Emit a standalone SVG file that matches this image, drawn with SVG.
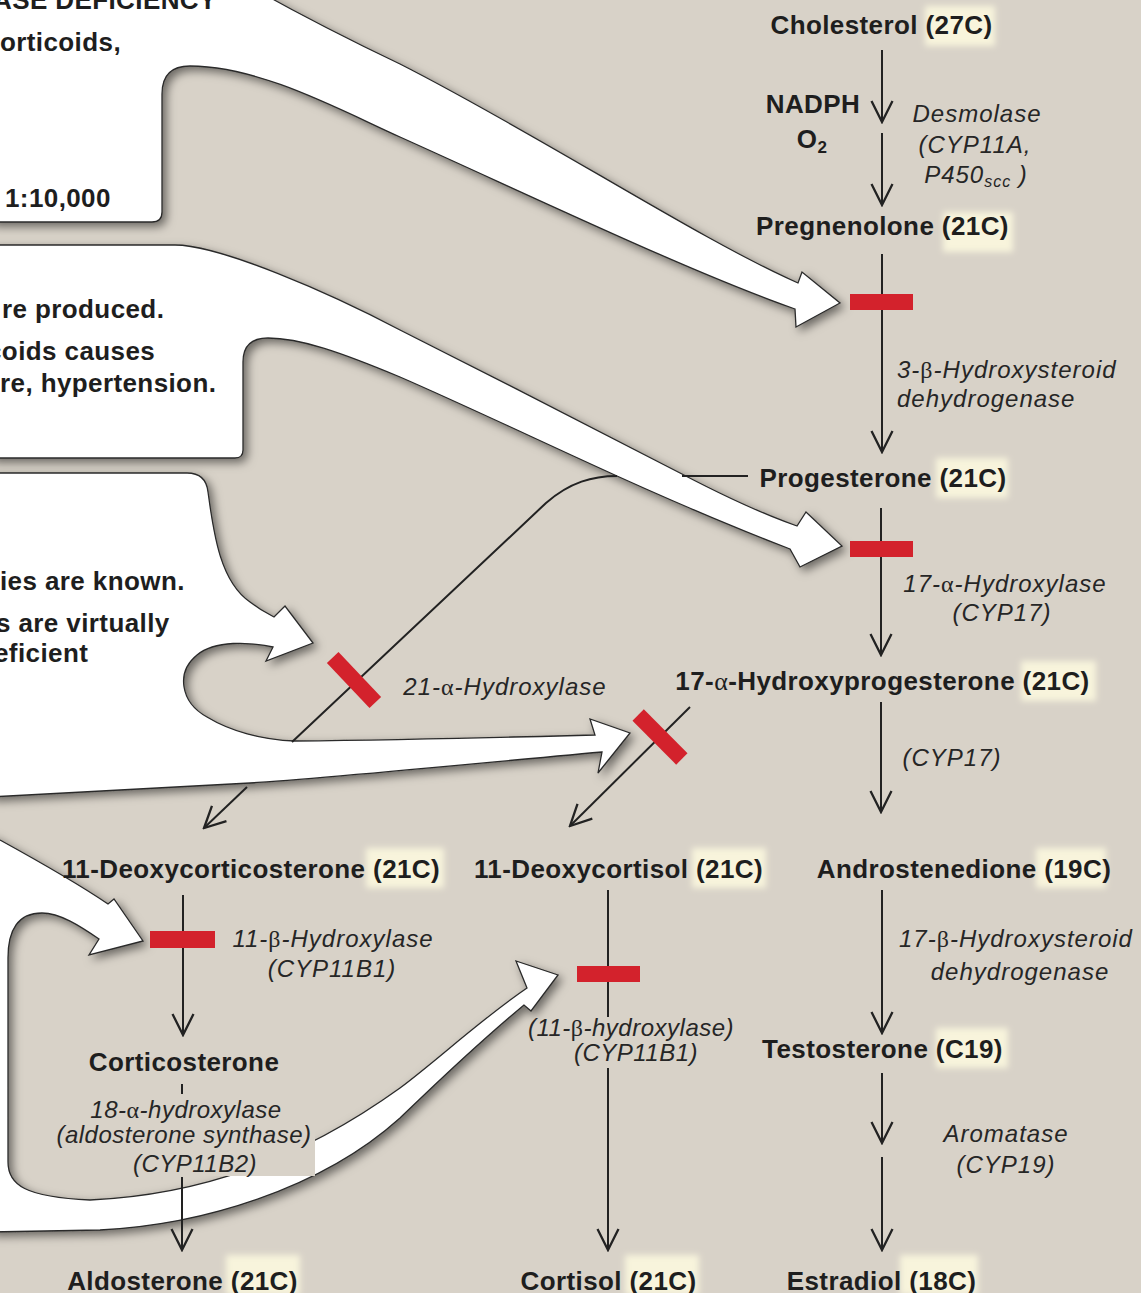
<svg xmlns="http://www.w3.org/2000/svg" width="1141" height="1293" viewBox="0 0 1141 1293">
<defs>
<style>
.b{font-family:"Liberation Sans",Arial,sans-serif;font-weight:bold;font-size:26px;letter-spacing:0.4px;fill:#1e1e1e}
.it{font-family:"Liberation Sans",Arial,sans-serif;font-style:italic;font-size:24px;letter-spacing:1px;fill:#262626}
.itc{font-family:"Liberation Sans",Arial,sans-serif;font-style:italic;font-size:24px;letter-spacing:0.5px;fill:#262626}
.gr{font-family:"Liberation Serif","DejaVu Serif",serif;font-style:normal;font-weight:normal}
.callout{fill:#ffffff;stroke:#2a2a2a;stroke-width:1.3;filter:url(#sh)}
.ln{fill:none;stroke:#222;stroke-width:2}
.arr{marker-end:url(#ah)}
.blk{fill:#d3222c}
.hl{fill:#f8f4dc;filter:url(#glow)}
.bg{fill:#d8d2c8}
</style>
<marker id="ah" viewBox="0 0 24 24" refX="22" refY="12" markerWidth="24" markerHeight="24" markerUnits="userSpaceOnUse" orient="auto">
<path d="M1,1.5 L22,12 L1,22.5" fill="none" stroke="#222" stroke-width="2.3"/>
</marker>
<filter id="sh" x="-10%" y="-10%" width="130%" height="130%">
<feDropShadow dx="4" dy="4" stdDeviation="5" flood-color="#000" flood-opacity="0.5"/>
</filter>
<filter id="glow" x="-20%" y="-20%" width="140%" height="140%">
<feGaussianBlur stdDeviation="3"/>
</filter>
</defs>

<rect x="0" y="0" width="1141" height="1293" fill="#d8d2c8"/>

<g id="callouts">
<g id="callout-a">
<path class="callout" d="M-10,-10 L256,-10 C310,20 360,45 400,64 C540,135 700,240 798,283 L802,272 L840,303 L796,327 L795,309 C690,272 540,200 400,137 C340,110 260,66 190,66 Q162,66 162,94 L162,212 Q162,222 152,222 L-10,222 Z"/>
<text class="b" x="-7" y="9" font-size="24">ASE DEFICIENCY</text>
<text class="b" x="0" y="51">orticoids,</text>
<text class="b" x="5" y="207">1:10,000</text>
</g>
<g id="callout-b">
<path class="callout" d="M-10,245 L175,245 C220,245 330,293 400,330 C490,375 600,432 680,473 C720,494 760,513 797,526 L806,512 L842,546 L800,567 L790,549 C730,526 670,500 617,476 C540,441 460,403 400,377 C340,352 300,338 268,338 Q243,338 243,362 L243,450 Q243,458 235,458 L-10,458 Z"/>
<text class="b" x="2" y="318">re produced.</text>
<text class="b" x="-13" y="360">coids causes</text>
<text class="b" x="0" y="392">re, hypertension.</text>
</g>
<g id="callout-c">
<path class="callout" d="M-10,473 L187,473 Q206,473 208,492 C214,537 221,582 250,602 C259,609 266,613 274,617 L285,606 L313,643 L266,661 L273,647 C250,642 215,640 197,655 C176,672 180,702 207,717 C230,731 262,740 295,741 C400,740 520,737 595,735 L590,719 L630,733 L598,773 L602,752 C470,764 330,778 250,783 L-10,797 Z"/>
<text class="b" x="0" y="590">ies are known.</text>
<text class="b" x="-4" y="632">s are virtually</text>
<text class="b" x="-6" y="662">eficient</text>
</g>
<g id="callout-d">
<path class="callout" d="M-10,834 L0,840 C40,862 80,885 108,904 L114,899 L143,941 L89,955 L99,939 C80,926 60,913 42,913 C18,913 8,930 8,958 L8,1162 C8,1185 25,1197 90,1200 C200,1195 300,1160 400,1088 C440,1058 480,1020 527,988 L516,961 L558,975 L531,1011 L524,1005 C470,1050 440,1080 400,1118 C320,1190 200,1225 100,1230 L-10,1232 Z"/>
</g>
<rect class="bg" x="53" y="1097" width="262" height="79"/>
</g>

<g id="connectors">
<line class="ln arr" x1="882" y1="50" x2="882" y2="122"/>
<line class="ln arr" x1="882" y1="133" x2="882" y2="205"/>
<line class="ln arr" x1="882" y1="254" x2="882" y2="452"/>
<line class="ln arr" x1="881" y1="508" x2="881" y2="655"/>
<line class="ln arr" x1="881" y1="702" x2="881" y2="812"/>
<line class="ln arr" x1="882" y1="890" x2="882" y2="1033"/>
<line class="ln arr" x1="882" y1="1073" x2="882" y2="1143"/>
<line class="ln arr" x1="882" y1="1157" x2="882" y2="1250"/>
<line class="ln arr" x1="183" y1="895" x2="183" y2="1035"/>
<line class="ln" x1="182" y1="1084" x2="182" y2="1094"/>
<line class="ln arr" x1="182" y1="1177" x2="182" y2="1250"/>
<line class="ln" x1="608" y1="890" x2="608" y2="1017"/>
<line class="ln arr" x1="608" y1="1068" x2="608" y2="1250"/>
<line class="ln" x1="748" y1="476" x2="682" y2="476"/>
<path class="ln" d="M617,476 C593,476 570,482 546,503 L292,742"/>
<path class="ln arr" d="M247,787 L204,828"/>
<line class="ln arr" x1="690" y1="707" x2="570" y2="826"/>
</g>

<g id="blocks">
<rect class="blk" x="850" y="294" width="63" height="16"/>
<rect class="blk" x="850" y="541" width="63" height="16"/>
<rect class="blk" x="-31" y="-8" width="62" height="16" transform="translate(354,680) rotate(46.6)"/>
<rect class="blk" x="-31" y="-8" width="62" height="16" transform="translate(660,737) rotate(45.2)"/>
<rect class="blk" x="150" y="931" width="65" height="17"/>
<rect class="blk" x="577" y="966" width="63" height="16"/>
</g>

<g id="enzyme-labels">
<text class="b" x="813" y="113" text-anchor="middle">NADPH</text>
<text class="b" x="812" y="148" text-anchor="middle">O<tspan font-size="17" dy="5">2</tspan></text>
<text class="it" x="977" y="122" text-anchor="middle">Desmolase</text>
<text class="it" x="975" y="153" text-anchor="middle">(CYP11A,</text>
<text class="it" x="976" y="183" text-anchor="middle">P450<tspan font-size="16" dy="4">scc</tspan><tspan dy="-4"> )</tspan></text>
<text class="it" x="897" y="378">3-<tspan class="gr">β</tspan>-Hydroxysteroid</text>
<text class="it" x="897" y="407">dehydrogenase</text>
<text class="it" x="1005" y="592" text-anchor="middle">17-<tspan class="gr">α</tspan>-Hydroxylase</text>
<text class="it" x="1002" y="621" text-anchor="middle">(CYP17)</text>
<text class="it" x="952" y="766" text-anchor="middle">(CYP17)</text>
<text class="it" x="505" y="695" text-anchor="middle">21-<tspan class="gr">α</tspan>-Hydroxylase</text>
<text class="it" x="1016" y="947" text-anchor="middle">17-<tspan class="gr">β</tspan>-Hydroxysteroid</text>
<text class="it" x="1020" y="980" text-anchor="middle">dehydrogenase</text>
<text class="it" x="1006" y="1142" text-anchor="middle">Aromatase</text>
<text class="it" x="1006" y="1173" text-anchor="middle">(CYP19)</text>
<text class="it" x="333" y="947" text-anchor="middle">11-<tspan class="gr">β</tspan>-Hydroxylase</text>
<text class="it" x="332" y="977" text-anchor="middle">(CYP11B1)</text>
<text class="itc" x="186" y="1118" text-anchor="middle">18-<tspan class="gr">α</tspan>-hydroxylase</text>
<text class="itc" x="184" y="1143" text-anchor="middle">(aldosterone synthase)</text>
<text class="itc" x="195" y="1172" text-anchor="middle">(CYP11B2)</text>
<text class="itc" x="631" y="1036" text-anchor="middle" font-size="23">(11-<tspan class="gr">β</tspan>-hydroxylase)</text>
<text class="itc" x="636" y="1061" text-anchor="middle" font-size="23">(CYP11B1)</text>
</g>

<g id="node-cholesterol"><rect class="hl" x="925" y="6" width="70" height="40"/><text class="b" x="881.5" y="34" text-anchor="middle">Cholesterol (27C)</text></g>
<g id="node-pregnenolone"><rect class="hl" x="943" y="212" width="70" height="40"/><text class="b" x="882.5" y="235" text-anchor="middle">Pregnenolone (21C)</text></g>
<g id="node-progesterone"><rect class="hl" x="936" y="458" width="72" height="40"/><text class="b" x="883" y="487" text-anchor="middle">Progesterone (21C)</text></g>
<g id="node-17-oh-progesterone"><rect class="hl" x="1021" y="661" width="75" height="40"/><text class="b" x="882.5" y="690" text-anchor="middle">17-<tspan class="gr">α</tspan>-Hydroxyprogesterone (21C)</text></g>
<g id="node-11-deoxycorticosterone"><rect class="hl" x="366" y="848" width="78" height="40"/><text class="b" x="251" y="878" text-anchor="middle">11-Deoxycorticosterone (21C)</text></g>
<g id="node-11-deoxycortisol"><rect class="hl" x="692" y="848" width="74" height="40"/><text class="b" x="618.5" y="878" text-anchor="middle">11-Deoxycortisol (21C)</text></g>
<g id="node-androstenedione"><rect class="hl" x="1036" y="848" width="70" height="40"/><text class="b" x="964" y="878" text-anchor="middle">Androstenedione (19C)</text></g>
<g id="node-testosterone"><rect class="hl" x="936" y="1028" width="72" height="40"/><text class="b" x="882.5" y="1058" text-anchor="middle">Testosterone (C19)</text></g>
<g id="node-corticosterone"><text class="b" x="184" y="1071" text-anchor="middle">Corticosterone</text></g>
<g id="node-aldosterone"><rect class="hl" x="226" y="1255" width="74" height="40"/><text class="b" x="182.5" y="1290" text-anchor="middle">Aldosterone (21C)</text></g>
<g id="node-cortisol"><rect class="hl" x="625" y="1255" width="74" height="40"/><text class="b" x="608.5" y="1290" text-anchor="middle">Cortisol (21C)</text></g>
<g id="node-estradiol"><rect class="hl" x="900" y="1255" width="78" height="40"/><text class="b" x="881.5" y="1290" text-anchor="middle">Estradiol (18C)</text></g>
</svg>
